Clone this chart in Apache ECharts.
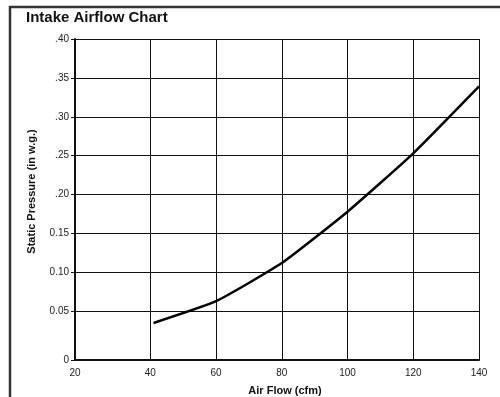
<!DOCTYPE html>
<html>
<head>
<meta charset="utf-8">
<script src="https://cdn.jsdelivr.net/npm/echarts@6/dist/echarts.min.js"></script>
<style>
html, body { margin: 0; padding: 0; background: #fff; }
#myChart { width: 500px; height: 397px; }
</style>
</head>
<body>
<div id="myChart"></div>
<script>
// data
const airFlow = [41, 60, 80, 100, 120, 140]
const pressure = [0.035, 0.063, 0.112, 0.178, 0.253, 0.339]

const xTicks = [20, 40, 60, 80, 100, 120, 140]
const xTickLabels = ['20', '40', '60', '80', '100', '120', '140']
const yTicks = [0, 0.05, 0.10, 0.15, 0.20, 0.25, 0.30, 0.35, 0.40]
const yTickLabels = ['0', '0.05', '0.10', '0.15', '.20', '.25', '.30', '.35', '.40']

// the first label of each axis sits on the corner, a bit before the real value
const xMin = 17.1
const yMin = -0.0126

const xPos = xTicks.map(v => v === xTicks[0] ? xMin : v)
const yPos = yTicks.map(v => v === yTicks[0] ? yMin : v)

function labelFor(pos, val, labels) {
	for (let i = 0; i < pos.length; i++) {
		if (Math.abs(pos[i] - val) < 1e-6) return labels[i]
	}
	return ''
}

const font = 'Liberation Sans, Arial, Helvetica, sans-serif'
const myChart = echarts.init(document.getElementById('myChart'))

const option = {
	animation: false,
	textStyle: { fontFamily: font },
	title: {
		text: 'Intake Airflow Chart',
		left: 21, top: 5,
		textStyle: { fontFamily: font, fontSize: 15, fontWeight: 'bold', color: '#111' }
	},
	graphic: [
		// outer frame (top and left only)
		{ type: 'line', shape: { x1: 9, y1: 7, x2: 500, y2: 7 }, style: { stroke: '#333', lineWidth: 2.5 } },
		{ type: 'line', shape: { x1: 10, y1: 6, x2: 10, y2: 397 }, style: { stroke: '#333', lineWidth: 2.5 } }
	],
	grid: { left: 75, top: 39, right: 21, bottom: 37, outerBoundsMode: 'none', containLabel: false },
	xAxis: {
		type: 'value',
		min: xMin, max: 140,
		name: 'Air Flow (cfm)',
		nameLocation: 'middle',
		nameGap: 25,
		nameTextStyle: { fontFamily: font, fontSize: 11, fontWeight: 'bold', color: '#111', padding: [0, 0, 0, 16] },
		axisLine: { onZero: false, lineStyle: { color: '#111', width: 2 } },
		axisTick: { show: false, customValues: xPos },
		axisLabel: {
			customValues: xPos,
			margin: 8,
			fontSize: 10, color: '#222', fontFamily: font,
			formatter: v => labelFor(xPos, v, xTickLabels)
		},
		splitLine: { show: true, lineStyle: { color: '#111', width: 1 } }
	},
	yAxis: {
		type: 'value',
		min: yMin, max: 0.40,
		name: 'Static Pressure (in w.g.)',
		nameLocation: 'middle',
		nameGap: 38,
		nameTextStyle: { fontFamily: font, fontSize: 11, fontWeight: 'bold', color: '#111', padding: [0, 0, 0, 16] },
		axisLine: { show: true, onZero: false, lineStyle: { color: '#111', width: 2 } },
		axisTick: { show: true, length: 4, customValues: yPos, lineStyle: { color: '#111' } },
		axisLabel: {
			customValues: yPos,
			margin: 6,
			fontSize: 10, color: '#222', fontFamily: font,
			formatter: v => labelFor(yPos, v, yTickLabels)
		},
		splitLine: { show: true, lineStyle: { color: '#111', width: 1 } }
	},
	series: [
		{
			type: 'line',
			data: airFlow.map((x, i) => [x, pressure[i]]),
			smooth: 0.15,
			symbol: 'none',
			lineStyle: { color: '#000', width: 2.5 }
		}
	]
}

myChart.setOption(option)
</script>
</body>
</html>
